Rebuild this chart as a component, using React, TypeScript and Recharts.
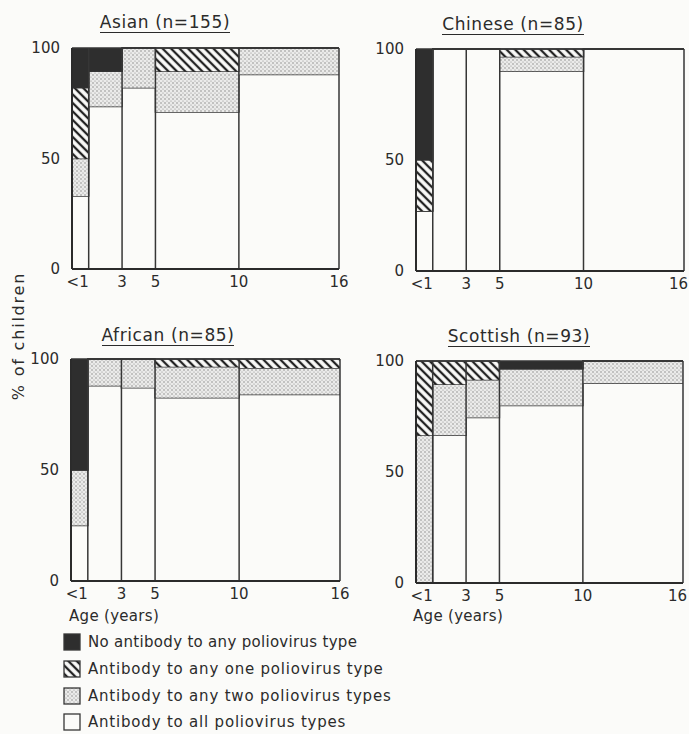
import React from "react";
import { AreaChart, Area, XAxis, YAxis, ReferenceLine } from "recharts";

// age groups: bars run from each start to the next one, the last to ageEnd
const ageStarts = [0, 1, 3, 5, 10];
const ageEnd = 16;
const ageTicks = [1, 3, 5, 10, 16];
const ageTickLabels = ["<1", "3", "5", "10", "16"];
const percentTicks = [0, 50, 100];

const categoryKeys = ["all", "two", "one", "none"];
const categoryLabels = [
  "No antibody to any poliovirus type",
  "Antibody to any one poliovirus type",
  "Antibody to any two poliovirus types",
  "Antibody to all poliovirus types",
];
const legendOrder = ["none", "one", "two", "all"];

// % of children in each group, per age band
const asianAll = [33, 73.5, 82, 71, 88];
const asianTwo = [17, 16, 18, 18.5, 12];
const asianOne = [32, 0, 0, 10.5, 0];
const asianNone = [18, 10.5, 0, 0, 0];

const chineseAll = [27, 100, 100, 90, 100];
const chineseTwo = [0, 0, 0, 6.5, 0];
const chineseOne = [23, 0, 0, 3.5, 0];
const chineseNone = [50, 0, 0, 0, 0];

const africanAll = [25, 88, 87, 82.5, 84];
const africanTwo = [25, 12, 13, 14, 12];
const africanOne = [0, 0, 0, 3.5, 4];
const africanNone = [50, 0, 0, 0, 0];

const scottishAll = [0, 66.5, 74.5, 80, 90];
const scottishTwo = [66.5, 23, 17, 16.5, 10];
const scottishOne = [33.5, 10.5, 8.5, 0, 0];
const scottishNone = [0, 0, 0, 3.5, 0];

const INK = "#2b2b2b";
const LINE = "#363636";
const BG = "#fbfbf9";

const fills: Record<string, string> = {
  all: BG,
  two: "url(#stipple)",
  one: "url(#hatch)",
  none: "#2e2e2e",
};

function buildRows(all: number[], two: number[], one: number[], none: number[]) {
  const rows = ageStarts.map((age, i) => ({ age, all: all[i], two: two[i], one: one[i], none: none[i] }));
  const last = rows[rows.length - 1];
  rows.push({ ...last, age: ageEnd });
  return rows;
}

const panels = [
  { title: "Asian (n=155)", rows: buildRows(asianAll, asianTwo, asianOne, asianNone) },
  { title: "Chinese (n=85)", rows: buildRows(chineseAll, chineseTwo, chineseOne, chineseNone) },
  { title: "African (n=85)", rows: buildRows(africanAll, africanTwo, africanOne, africanNone) },
  { title: "Scottish (n=93)", rows: buildRows(scottishAll, scottishTwo, scottishOne, scottishNone) },
];

// plot rectangles and title centres on the page
const layout = [
  { left: 72, top: 48, width: 267, height: 221, tx: 165, ty: 22, edge: false },
  { left: 416, top: 49, width: 268, height: 222, tx: 513, ty: 24, edge: true },
  { left: 71, top: 359, width: 269, height: 222, tx: 168, ty: 335, edge: false },
  { left: 416, top: 361, width: 267, height: 222, tx: 519, ty: 336, edge: true },
];

const AgeTick = (props: any) => {
  const { x, y, payload, edge } = props;
  const i = ageTicks.indexOf(payload.value);
  let anchor = "middle";
  let tx = x;
  if (i === 0) anchor = "end";
  // keep the last label inside the page on the right-hand panels
  if (i === ageTicks.length - 1 && edge) {
    anchor = "end";
    tx = x + 4;
  }
  return (
    <text x={tx} y={y} dy="0.71em" textAnchor={anchor} fill={INK} fontSize={15}>
      {ageTickLabels[i]}
    </text>
  );
};

function Panel({ rows, box }: { rows: any[]; box: (typeof layout)[number] }) {
  const yAxisW = 60;
  const mTop = 10;
  const xAxisH = 30;
  const mRight = 16;
  return (
    <div style={{ position: "absolute", left: box.left - yAxisW, top: box.top - mTop }}>
      <AreaChart
        width={box.width + yAxisW + mRight}
        height={box.height + mTop + xAxisH}
        data={rows}
        margin={{ top: mTop, right: mRight, bottom: 0, left: 0 }}
      >
        {categoryKeys.map((k) => (
          <Area
            key={k}
            type="stepAfter"
            dataKey={k}
            stackId="s"
            fill={fills[k]}
            fillOpacity={1}
            stroke={LINE}
            strokeWidth={1.5}
            dot={false}
            activeDot={false}
            isAnimationActive={false}
          />
        ))}
        {ageTicks.map((x) => (
          <ReferenceLine key={x} x={x} stroke={LINE} strokeWidth={1.5} />
        ))}
        <XAxis
          type="number"
          dataKey="age"
          domain={[0, ageEnd]}
          ticks={ageTicks}
          interval={0}
          tick={<AgeTick edge={box.edge} />}
          tickLine={false}
          tickSize={6}
          tickMargin={1}
          height={xAxisH}
          axisLine={{ stroke: INK, strokeWidth: 2 }}
        />
        <YAxis
          type="number"
          domain={[0, 100]}
          ticks={percentTicks}
          width={yAxisW}
          tickLine={false}
          tickMargin={6}
          tick={{ fill: INK, fontSize: 15 }}
          axisLine={{ stroke: INK, strokeWidth: 2 }}
        />
      </AreaChart>
    </div>
  );
}

function Swatch({ k }: { k: string }) {
  return (
    <svg width={18} height={18} style={{ position: "absolute", left: 0, top: 0 }}>
      <rect x={1} y={1} width={16} height={16} fill={fills[k]} stroke={LINE} strokeWidth={1.3} />
    </svg>
  );
}

export default function App() {
  return (
    <div
      style={{
        position: "absolute",
        left: 0,
        top: 0,
        width: 689,
        height: 734,
        background: BG,
        fontFamily: "'DejaVu Sans', sans-serif",
        color: INK,
        overflow: "hidden",
      }}
    >
      <svg width={0} height={0} style={{ position: "absolute" }}>
        <defs>
          <pattern id="stipple" width={4} height={4} patternUnits="userSpaceOnUse">
            <rect width={4} height={4} fill="#ebebea" />
            <circle cx={1} cy={1} r={0.7} fill="#7a7a7a" />
            <circle cx={3} cy={3} r={0.6} fill="#8a8a8a" />
          </pattern>
          <pattern id="hatch" width={6} height={6} patternUnits="userSpaceOnUse" patternTransform="rotate(-45)">
            <rect width={6} height={6} fill={BG} />
            <line x1={3} y1={0} x2={3} y2={6} stroke="#222" strokeWidth={2.3} />
          </pattern>
        </defs>
      </svg>

      {panels.map((p, i) => (
        <React.Fragment key={p.title}>
          <Panel rows={p.rows} box={layout[i]} />
          <div
            style={{
              position: "absolute",
              left: layout[i].tx - 150,
              top: layout[i].ty - 10,
              width: 300,
              textAlign: "center",
              fontSize: 17,
              letterSpacing: 0.6,
            }}
          >
            <span style={{ display: "inline-block", lineHeight: "20px", borderBottom: `1.5px solid ${INK}` }}>{p.title}</span>
          </div>
        </React.Fragment>
      ))}

      <div
        style={{
          position: "absolute",
          left: 19 - 100,
          top: 336 - 10,
          width: 200,
          height: 20,
          lineHeight: "20px",
          textAlign: "center",
          fontSize: 16,
          letterSpacing: 1.8,
          transform: "rotate(-90deg)",
        }}
      >
        % of children
      </div>

      <div style={{ position: "absolute", left: 69, top: 606, fontSize: 15, letterSpacing: 0.3, lineHeight: "20px" }}>
        Age (years)
      </div>
      <div style={{ position: "absolute", left: 413, top: 606, fontSize: 15, letterSpacing: 0.3, lineHeight: "20px" }}>
        Age (years)
      </div>

      {legendOrder.map((k, i) => (
        <div key={k} style={{ position: "absolute", left: 63, top: 633 + i * 26.8, height: 18 }}>
          <Swatch k={k} />
          <div
            style={{
              position: "absolute",
              left: 25,
              top: -1,
              whiteSpace: "nowrap",
              fontSize: 15,
              lineHeight: "20px",
              letterSpacing: i === 0 ? 0.3 : 0.8,
            }}
          >
            {categoryLabels[i]}
          </div>
        </div>
      ))}
    </div>
  );
}
